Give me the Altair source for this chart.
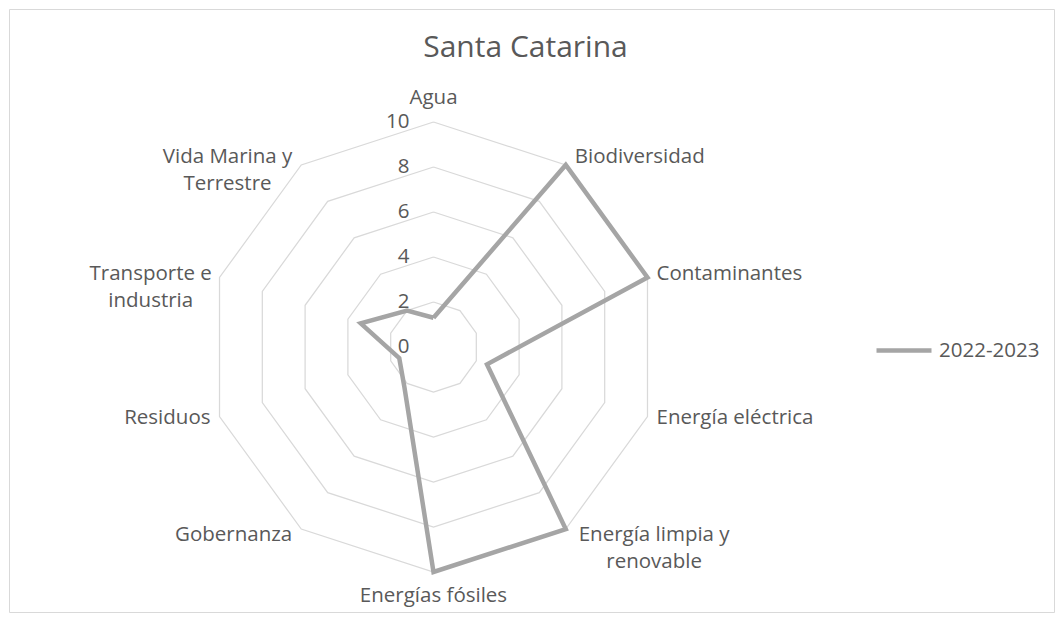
import math
import altair as alt
import pandas as pd

# ---------------- data ----------------
title_text = "Santa Catarina"
series_name = "2022-2023"
categories = [
    "Agua",
    "Biodiversidad",
    "Contaminantes",
    "Energía eléctrica",
    "Energía limpia y renovable",
    "Energías fósiles",
    "Gobernanza",
    "Residuos",
    "Transporte e industria",
    "Vida Marina y Terrestre",
]
label_text = [
    "Agua",
    "Biodiversidad",
    "Contaminantes",
    "Energía eléctrica",
    "Energía limpia y\nrenovable",
    "Energías fósiles",
    "Gobernanza",
    "Residuos",
    "Transporte e\nindustria",
    "Vida Marina y\nTerrestre",
]
values = [1.3, 10, 10, 2.5, 10, 10, 2.2, 1.6, 3.4, 2.0]
grid_levels = [2, 4, 6, 8, 10]
tick_values = [0, 2, 4, 6, 8, 10]

# ---------------- layout ----------------
W, H = 1045, 603
U = 22.5            # pixels per unit of value
CX, CY = 424.5, 338  # radar centre inside the view
xdom = [-CX / U, (W - CX) / U]
ydom = [-(H - CY) / U, CY / U]
TEXT = "#595959"
FONT = "Open Sans"
FS = 20.5

n = len(categories)
series_df = pd.DataFrame({
    "idx": list(range(n)) + [n],
    "cat": categories + categories[:1],
    "value": values + values[:1],
    "series": [series_name] * (n + 1),
})
grid_df = pd.DataFrame([{"idx": i, "level": lv} for lv in grid_levels for i in range(n + 1)])
label_df = pd.DataFrame({"idx": list(range(n)), "label": label_text})
tick_df = pd.DataFrame({"tick": tick_values})
title_df = pd.DataFrame({"t": [title_text]})

ANG = f"(datum.idx * 2 * PI / {n})"

x_scale = alt.Scale(domain=xdom, nice=False, zero=False)
y_scale = alt.Scale(domain=ydom, nice=False, zero=False)


def X(f):
    return alt.X(f"{f}:Q", scale=x_scale, axis=None)


def Y(f):
    return alt.Y(f"{f}:Q", scale=y_scale, axis=None)


grid = alt.Chart(grid_df).transform_calculate(
    gx=f"datum.level * sin({ANG})",
    gy=f"datum.level * cos({ANG})",
).mark_line(color="#d9d9d9", strokeWidth=1.25).encode(
    x=X("gx"), y=Y("gy"), detail="level:N", order="idx:Q"
)

line = alt.Chart(series_df).transform_calculate(
    sx=f"datum.value * sin({ANG})",
    sy=f"datum.value * cos({ANG})",
).mark_line(strokeWidth=4.5).encode(
    x=X("sx"),
    y=Y("sy"),
    order="idx:Q",
    color=alt.Color(
        "series:N",
        scale=alt.Scale(range=["#a5a5a5"]),
        legend=alt.Legend(
            orient="none",
            legendX=865,
            legendY=311.5,
            title=None,
            symbolType="stroke",
            symbolSize=3025,
            symbolStrokeWidth=4.5,
            labelFontSize=FS,
            labelColor=TEXT,
            labelFont=FONT,
            labelOffset=5,
            padding=0,
        ),
    ),
)

lab_base = alt.Chart(label_df).transform_calculate(
    s=f"sin({ANG})",
    c=f"cos({ANG})",
).transform_calculate(
    side="abs(datum.s) < 0.01 ? 0 : (datum.s > 0 ? 1 : -1)",
    multi="indexof(datum.label, '\\n') >= 0",
    first="split(datum.label, '\\n')[0]",
).transform_calculate(
    lx=f"10 * datum.s + (datum.multi ? datum.side * (10 + length(datum.first) * 4.9) / {U} : 0)",
    ly=f"10 * datum.c + (datum.side == 0 ? datum.c * 24 / {U} : (9 * datum.c + 1) / {U})",
)

lab_left = lab_base.transform_filter("datum.side == 1 && !datum.multi").mark_text(
    align="left", baseline="middle", dx=9, fontSize=FS, color=TEXT, font=FONT
).encode(x=X("lx"), y=Y("ly"), text="label:N")

lab_right = lab_base.transform_filter("datum.side == -1 && !datum.multi").mark_text(
    align="right", baseline="middle", dx=-9, fontSize=FS, color=TEXT, font=FONT
).encode(x=X("lx"), y=Y("ly"), text="label:N")

lab_center = lab_base.transform_filter("datum.side == 0 || datum.multi").mark_text(
    align="center", baseline="middle", fontSize=FS, color=TEXT, font=FONT,
    lineBreak="\n", lineHeight=27,
).encode(x=X("lx"), y=Y("ly"), text="label:N")

ticks = alt.Chart(tick_df).transform_calculate(tx="0").mark_text(
    align="right", baseline="middle", dx=-24, fontSize=FS, color=TEXT, font=FONT
).encode(x=X("tx"), y=Y("tick"), text="tick:Q")

title = alt.Chart(title_df).mark_text(
    align="center", baseline="alphabetic", fontSize=30, color=TEXT, font=FONT
).encode(x=alt.value(516.5), y=alt.value(48), text="t:N")

chart = alt.layer(grid, line, ticks, lab_left, lab_right, lab_center, title).properties(
    width=W,
    height=H,
    autosize=alt.AutoSizeParams(type="none"),
    padding={"left": 1, "top": 1, "right": 2, "bottom": 2},
).configure_view(stroke="#d9d9d9", strokeWidth=1)

chart.save("out.html", embed_options={"renderer": "svg", "actions": False})
